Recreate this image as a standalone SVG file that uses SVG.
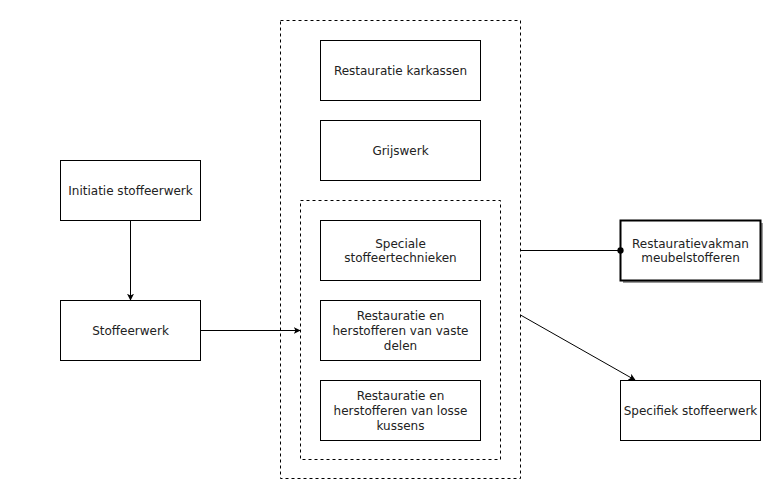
<svg xmlns="http://www.w3.org/2000/svg" width="768" height="485" viewBox="0 0 768 485">
<defs>
<marker id="arr" viewBox="0 0 10 10" refX="9" refY="5" markerWidth="7" markerHeight="7" markerUnits="userSpaceOnUse" orient="auto"><path d="M0,0 L10,5 L0,10 L2.5,5 Z" fill="#000"/></marker>
<marker id="dot" viewBox="0 0 10 10" refX="5" refY="5" markerWidth="7" markerHeight="7" markerUnits="userSpaceOnUse"><circle cx="5" cy="5" r="4.5" fill="#000"/></marker>
</defs>
<style>
.box{fill:#fff;stroke:#000;stroke-width:1}
.dash{fill:none;stroke:#000;stroke-width:1;stroke-dasharray:3 3}
text{font-family:"DejaVu Sans",Verdana,sans-serif;font-size:12px;fill:#222;text-anchor:middle;dominant-baseline:central}
.edge{fill:none;stroke:#000;stroke-width:1}
</style>
<rect width="768" height="485" fill="#fff"/>
<g id="outer"><rect class="dash" x="280.5" y="20.5" width="240" height="458"/></g>
<g id="inner"><rect class="dash" x="300.5" y="200.5" width="200" height="259"/></g>
<g id="n-karkassen"><rect class="box" x="320.5" y="40.5" width="160" height="60"/><text x="400.5" y="71">Restauratie karkassen</text></g>
<g id="n-grijswerk"><rect class="box" x="320.5" y="120.5" width="160" height="60"/><text x="400.5" y="151">Grijswerk</text></g>
<g id="n-speciale"><rect class="box" x="320.5" y="220.5" width="160" height="60"/><text x="400.5" y="244">Speciale</text><text x="400.5" y="258">stoffeertechnieken</text></g>
<g id="n-vaste"><rect class="box" x="320.5" y="300.5" width="160" height="60"/><text x="400.5" y="316">Restauratie en</text><text x="400.5" y="331">herstofferen van vaste</text><text x="400.5" y="346">delen</text></g>
<g id="n-losse"><rect class="box" x="320.5" y="380.5" width="160" height="60"/><text x="400.5" y="396">Restauratie en</text><text x="400.5" y="411">herstofferen van losse</text><text x="400.5" y="426">kussens</text></g>
<g id="n-initiatie"><rect class="box" x="60.5" y="160.5" width="140" height="60"/><text x="130.5" y="191">Initiatie stoffeerwerk</text></g>
<g id="n-stoffeerwerk"><rect class="box" x="60.5" y="300.5" width="140" height="60"/><text x="130.5" y="331">Stoffeerwerk</text></g>
<g id="n-vakman"><rect x="623" y="223" width="140" height="60" fill="#999"/><rect x="620.5" y="220.5" width="140" height="60" fill="#fff" stroke="#000" stroke-width="2"/><text x="690.5" y="244">Restauratievakman</text><text x="690.5" y="258">meubelstofferen</text></g>
<g id="n-specifiek"><rect class="box" x="620.5" y="380.5" width="140" height="60"/><text x="690.5" y="411">Specifiek stoffeerwerk</text></g>
<g id="connectors">
<path class="edge" d="M130.5,220.5 L130.5,300" marker-end="url(#arr)"/>
<path class="edge" d="M200.5,330.5 L300,330.5" marker-end="url(#arr)"/>
<path class="edge" d="M520.5,250.5 L620.5,250.5" marker-end="url(#dot)"/>
<path class="edge" d="M520.5,315 L635,380" marker-end="url(#arr)"/>
</g>
</svg>
